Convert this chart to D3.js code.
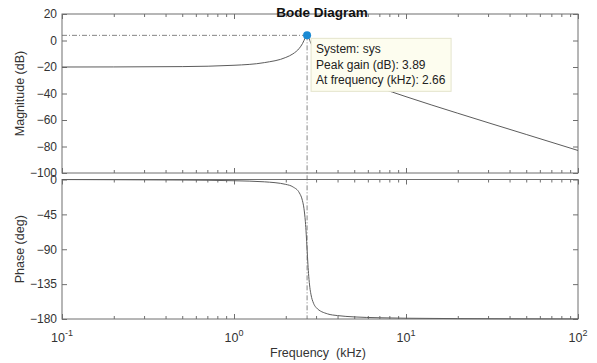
<!DOCTYPE html>
<html>
<head>
<meta charset="utf-8">
<script src="https://cdn.jsdelivr.net/npm/d3@7"></script>
<style>
  html, body { margin: 0; padding: 0; background: #fff; }
  svg { display: block; font-family: "Liberation Sans", Arial, sans-serif; }
</style>
</head>
<body>
<svg id="chart" width="597" height="363"></svg>
<script>
// 频率 (kHz) 与读图得到的幅值 / 相位
var freq     = [0.1, 0.2, 0.5, 1, 1.5, 2, 2.2, 2.4, 2.5, 2.55, 2.6, 2.63, 2.66, 2.69, 2.72, 2.76, 2.8, 2.9, 3, 3.5, 4, 5, 7, 10, 20, 50, 100];
var magDb    = [-20, -19.95, -19.7, -18.7, -16.7, -12.8, -10.1, -5.8, -2.4, -0.1, 2.3, 3.5, 3.89, 3.3, 2.0, -0.1, -2.1, -6.1, -9.0, -17.3, -22.0, -28.1, -35.5, -42.4, -54.9, -70.9, -83.0];
var phaseDeg = [-0.1, -0.3, -0.7, -1.6, -3.0, -6.3, -9.5, -17.3, -27.3, -37.1, -54.5, -70.5, -90, -109.3, -124.9, -139.1, -148, -159.7, -165.1, -173.4, -175.6, -177.3, -178.4, -179, -179.5, -179.8, -179.9];

var peak = { f: 2.66, db: 3.89 };

var magTicks   = [20, 0, -20, -40, -60, -80, -100];
var phaseTicks = [0, -45, -90, -135, -180];
var decades    = [-1, 0, 1, 2];

var svg = d3.select("#chart");

var left = 62, right = 578;
var magTop = 14, magBottom = 173;
var phTop = 179.5, phBottom = 319;

var frameColor = "#6f6f6f";
var lineColor = "#5c5c5c";

var x = d3.scaleLog().domain([0.1, 100]).range([left, right]);
var yMag = d3.scaleLinear().domain([-100, 20]).range([magBottom, magTop]);
var yPh = d3.scaleLinear().domain([-180, 0]).range([phBottom, phTop]);

// 次刻度
var minor = [];
decades.slice(0, 3).forEach(function (e) {
  for (var k = 2; k <= 9; k++) minor.push(k * Math.pow(10, e));
});
var major = decades.map(function (e) { return Math.pow(10, e); });

function styleAxis(g) {
  g.select(".domain").remove();
  g.selectAll("line").attr("stroke", frameColor).attr("stroke-width", 1);
  g.selectAll("text").attr("fill", "#333").attr("font-size", 12);
}

function drawPanel(y, top, bottom, ticks) {
  // 左右刻度
  svg.append("g").attr("transform", "translate(" + left + ",0)")
    .call(d3.axisLeft(y).tickValues(ticks).tickSize(-5).tickPadding(5).tickFormat(d3.format("d")))
    .call(styleAxis);
  svg.append("g").attr("transform", "translate(" + right + ",0)")
    .call(d3.axisRight(y).tickValues(ticks).tickSize(-5).tickFormat(""))
    .call(styleAxis);
  // 上下刻度
  [[top, d3.axisTop], [bottom, d3.axisBottom]].forEach(function (p) {
    svg.append("g").attr("transform", "translate(0," + p[0] + ")")
      .call(p[1](x).tickValues(major).tickSize(-5).tickFormat(""))
      .call(styleAxis);
    svg.append("g").attr("transform", "translate(0," + p[0] + ")")
      .call(p[1](x).tickValues(minor).tickSize(-3).tickFormat(""))
      .call(styleAxis);
  });
  svg.append("rect")
    .attr("x", left).attr("y", top)
    .attr("width", right - left).attr("height", bottom - top)
    .attr("fill", "none").attr("stroke", frameColor).attr("stroke-width", 1);
}

drawPanel(yMag, magTop, magBottom, magTicks);
drawPanel(yPh, phTop, phBottom, phaseTicks);

// x 轴标签 10^n
decades.forEach(function (e) {
  var t = svg.append("text")
    .attr("x", x(Math.pow(10, e)))
    .attr("y", 342)
    .attr("text-anchor", "middle")
    .attr("font-size", 12.5)
    .attr("fill", "#333");
  t.append("tspan").text("10");
  t.append("tspan").attr("dy", -6).attr("font-size", 9).text(e);
});

// 曲线
var magLine = d3.line()
  .x(function (d, i) { return x(freq[i]); })
  .y(function (d) { return yMag(d); })
  .curve(d3.curveMonotoneX);
var phLine = d3.line()
  .x(function (d, i) { return x(freq[i]); })
  .y(function (d) { return yPh(d); })
  .curve(d3.curveMonotoneX);

svg.append("path").datum(magDb).attr("d", magLine)
  .attr("fill", "none").attr("stroke", lineColor).attr("stroke-width", 1);
svg.append("path").datum(phaseDeg).attr("d", phLine)
  .attr("fill", "none").attr("stroke", lineColor).attr("stroke-width", 1);

// 峰值虚线
svg.append("line")
  .attr("x1", left).attr("x2", x(peak.f))
  .attr("y1", yMag(peak.db)).attr("y2", yMag(peak.db))
  .attr("stroke", "#666").attr("stroke-width", 0.8)
  .attr("stroke-dasharray", "5,2,1,2");
svg.append("line")
  .attr("x1", x(peak.f)).attr("x2", x(peak.f))
  .attr("y1", yMag(peak.db)).attr("y2", phBottom)
  .attr("stroke", "#666").attr("stroke-width", 0.8)
  .attr("stroke-dasharray", "5,2,1,2");

// 数据提示框
var tipX = x(peak.f) + 4, tipY = yMag(peak.db) + 3;
svg.append("rect")
  .attr("x", tipX).attr("y", tipY)
  .attr("width", 140).attr("height", 53)
  .attr("fill", "#fdfdef").attr("stroke", "#e4e4cc").attr("stroke-width", 1);
var tipLines = ["System: sys", "Peak gain (dB): 3.89", "At frequency (kHz): 2.66"];
svg.append("g").selectAll("text").data(tipLines).join("text")
  .attr("x", tipX + 5)
  .attr("y", function (d, i) { return tipY + 15 + i * 15.5; })
  .attr("font-size", 12)
  .attr("fill", "#222")
  .text(function (d) { return d; });

svg.append("circle")
  .attr("cx", x(peak.f)).attr("cy", yMag(peak.db)).attr("r", 4)
  .attr("fill", "#1b8ad3");

// 标题与轴标签
svg.append("text")
  .attr("x", (left + right) / 2 + 2).attr("y", 17)
  .attr("text-anchor", "middle").attr("font-size", 13.5).attr("font-weight", "bold")
  .attr("fill", "#111")
  .text("Bode Diagram");

svg.append("text")
  .attr("transform", "translate(24," + (magTop + magBottom) / 2 + ") rotate(-90)")
  .attr("text-anchor", "middle").attr("font-size", 12.5).attr("fill", "#333")
  .text("Magnitude (dB)");
svg.append("text")
  .attr("transform", "translate(24," + (phTop + phBottom) / 2 + ") rotate(-90)")
  .attr("text-anchor", "middle").attr("font-size", 12.5).attr("fill", "#333")
  .text("Phase (deg)");
svg.append("text")
  .attr("x", 318).attr("y", 357)
  .attr("text-anchor", "middle").attr("font-size", 12.5).attr("fill", "#333")
  .style("white-space", "pre")
  .text("Frequency  (kHz)");
</script>
</body>
</html>
